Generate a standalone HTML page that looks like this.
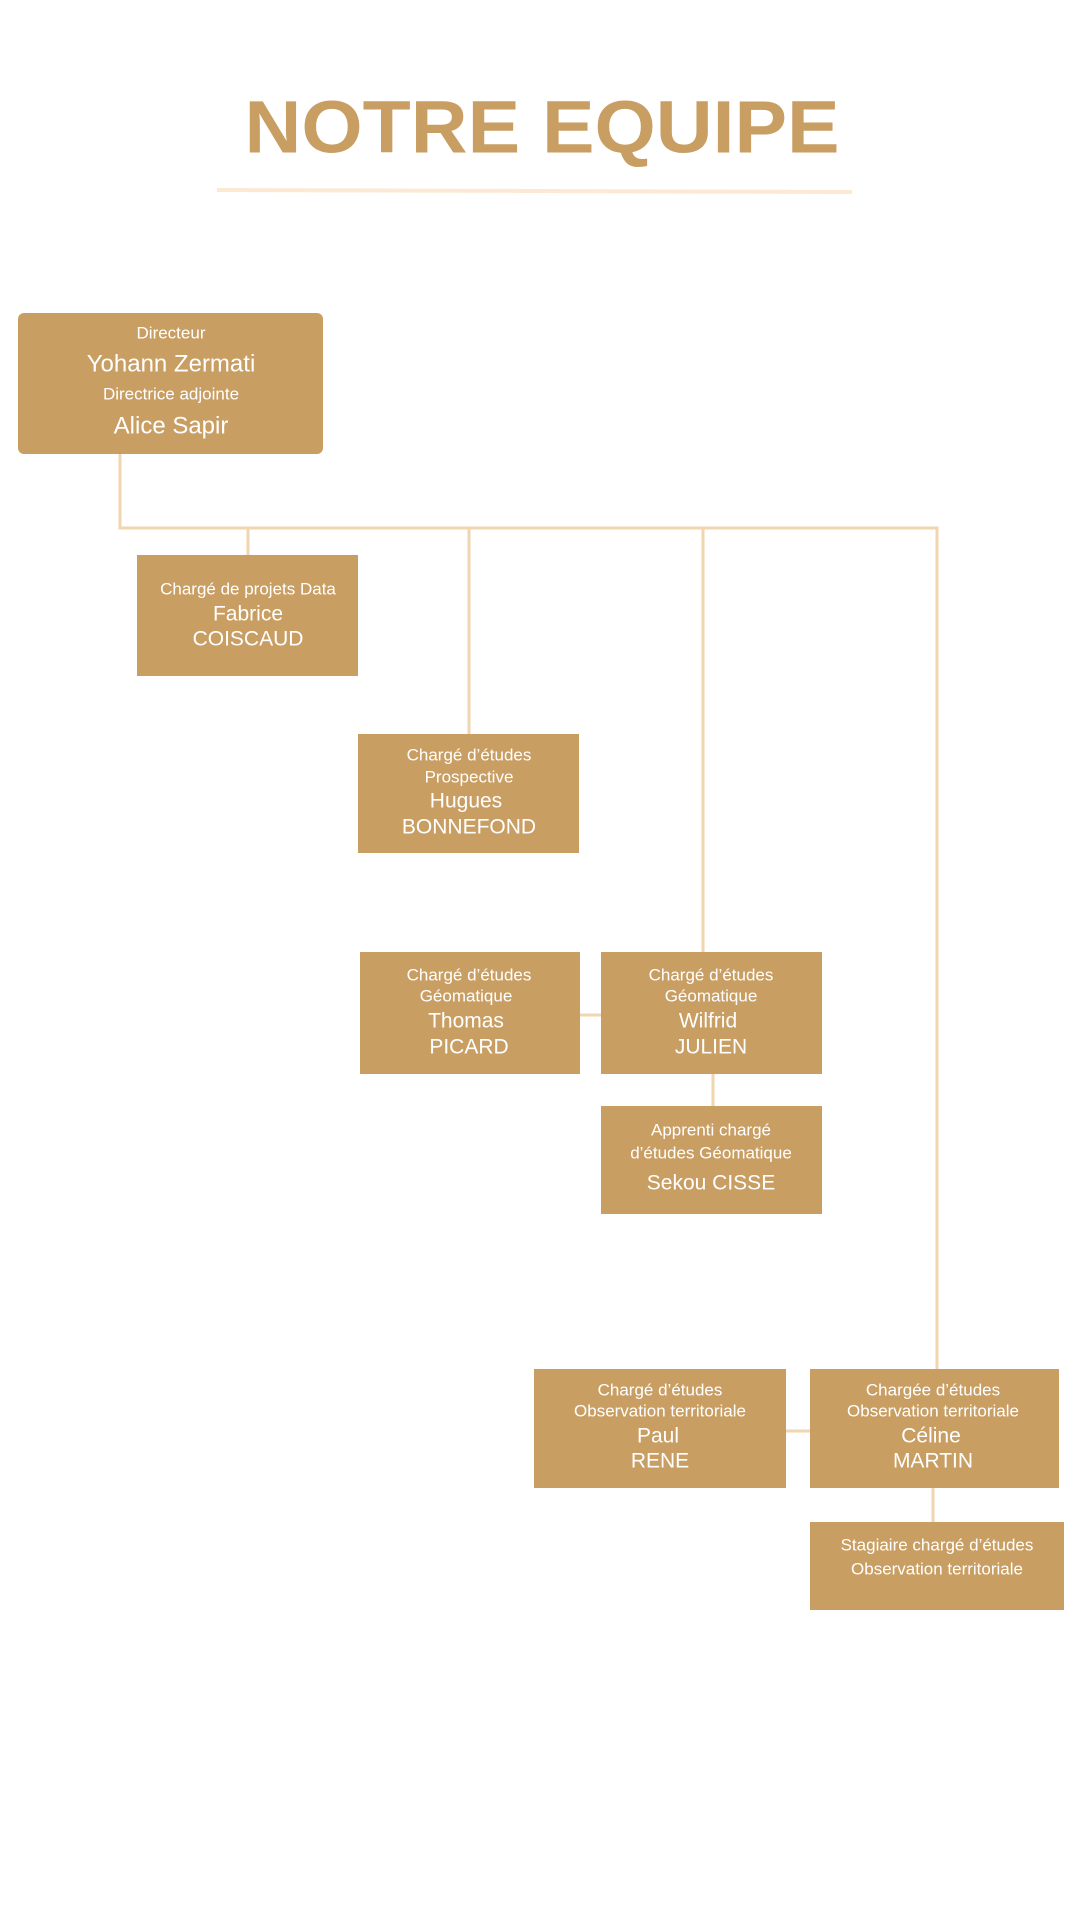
<!DOCTYPE html>
<html><head><meta charset="utf-8"><style>
html,body{margin:0;padding:0;background:#fff;}
svg{display:block;}
text{font-family:"Liberation Sans",sans-serif;fill:#fff;text-anchor:middle;dominant-baseline:central;}
.s{font-size:17px;}
.n{font-size:21px;}
.d{font-size:24px;}
</style></head><body>
<svg width="1080" height="1920" viewBox="0 0 1080 1920">
<text x="542" y="127" style="font-size:74px;font-weight:bold;fill:#C99E63" textLength="595" lengthAdjust="spacingAndGlyphs">NOTRE EQUIPE</text>
<polygon points="217,188 852,190 852,194 217,192" fill="#FBE9D3"/>
<g stroke="#F0D6AF" stroke-width="3" fill="none">
<path d="M120,454 V528 H937 V1369"/>
<path d="M248,528 V555"/>
<path d="M469,528 V734"/>
<path d="M703,528 V952"/>
<path d="M580,1015 H601"/>
<path d="M713,1074 V1106"/>
<path d="M786,1431 H810"/>
<path d="M933,1488 V1522"/>
</g>
<g fill="#C99E63">
<rect x="18" y="313" width="305" height="141" rx="6"/>
<rect x="137" y="555" width="221" height="121"/>
<rect x="358" y="734" width="221" height="119"/>
<rect x="360" y="952" width="220" height="122"/>
<rect x="601" y="952" width="221" height="122"/>
<rect x="601" y="1106" width="221" height="108"/>
<rect x="534" y="1369" width="252" height="119"/>
<rect x="810" y="1369" width="249" height="119"/>
<rect x="810" y="1522" width="254" height="88"/>
</g>
<text class="s" x="171" y="333">Directeur</text>
<text class="d" x="171" y="364">Yohann Zermati</text>
<text class="s" x="171" y="394">Directrice adjointe</text>
<text class="d" x="171" y="426">Alice Sapir</text>

<text class="s" x="248" y="589">Chargé de projets Data</text>
<text class="n" x="248" y="614">Fabrice</text>
<text class="n" x="248" y="639">COISCAUD</text>

<text class="s" x="469" y="755">Chargé d’études</text>
<text class="s" x="469" y="777">Prospective</text>
<text class="n" x="466" y="801">Hugues</text>
<text class="n" x="469" y="827">BONNEFOND</text>

<text class="s" x="469" y="975">Chargé d’études</text>
<text class="s" x="466" y="996">Géomatique</text>
<text class="n" x="466" y="1021">Thomas</text>
<text class="n" x="469" y="1047">PICARD</text>

<text class="s" x="711" y="975">Chargé d’études</text>
<text class="s" x="711" y="996">Géomatique</text>
<text class="n" x="708" y="1021">Wilfrid</text>
<text class="n" x="711" y="1047">JULIEN</text>

<text class="s" x="711" y="1130">Apprenti chargé</text>
<text class="s" x="711" y="1153">d’études Géomatique</text>
<text class="n" x="711" y="1183">Sekou CISSE</text>

<text class="s" x="660" y="1390">Chargé d’études</text>
<text class="s" x="660" y="1411">Observation territoriale</text>
<text class="n" x="658" y="1436">Paul</text>
<text class="n" x="660" y="1461">RENE</text>

<text class="s" x="933" y="1390">Chargée d’études</text>
<text class="s" x="933" y="1411">Observation territoriale</text>
<text class="n" x="931" y="1436">Céline</text>
<text class="n" x="933" y="1461">MARTIN</text>

<text class="s" x="937" y="1545">Stagiaire chargé d’études</text>
<text class="s" x="937" y="1569">Observation territoriale</text>
</svg>
</body></html>
